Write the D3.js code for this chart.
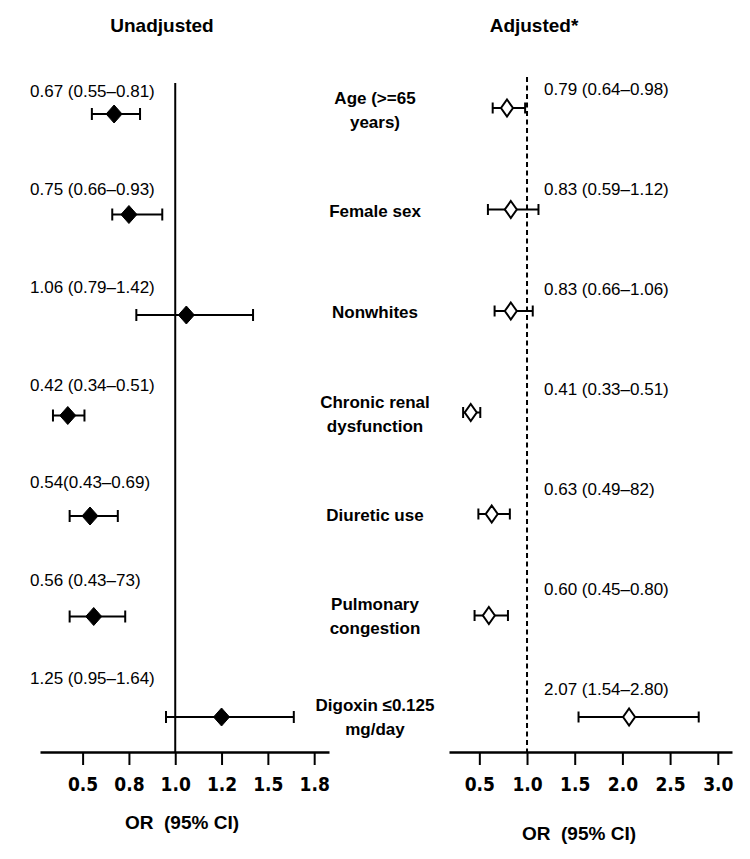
<!DOCTYPE html>
<html>
<head>
<meta charset="utf-8">
<script src="https://cdn.jsdelivr.net/npm/d3@7"></script>
<style>
  body { margin: 0; background: #fff; }
  svg text { font-family: "Liberation Sans", Arial, sans-serif; fill: #000; }
  .tick text { font-family: "Liberation Sans Narrow", "DejaVu Sans Condensed", "Liberation Sans", sans-serif; font-weight: bold; font-size: 19px; }
</style>
</head>
<body>
<div id="chart"></div>
<script>
// Rows (center labels, split into lines)
const rowLabels = [
    ["Age (>=65", "years)"],
    ["Female sex"],
    ["Nonwhites"],
    ["Chronic renal", "dysfunction"],
    ["Diuretic use"],
    ["Pulmonary", "congestion"],
    ["Digoxin \u22640.125", "mg/day"]
];

// Unadjusted OR and 95% CI
const unadjOR = [0.67, 0.75, 1.06, 0.42, 0.54, 0.56, 1.25];
const unadjLo = [0.55, 0.66, 0.79, 0.34, 0.43, 0.43, 0.95];
const unadjHi = [0.81, 0.93, 1.42, 0.51, 0.69, 0.73, 1.64];
const unadjText = ["0.67 (0.55\u20130.81)", "0.75 (0.66\u20130.93)", "1.06 (0.79\u20131.42)",
    "0.42 (0.34\u20130.51)", "0.54(0.43\u20130.69)", "0.56 (0.43\u201373)", "1.25 (0.95\u20131.64)"];

// Adjusted OR and 95% CI
const adjOR = [0.79, 0.83, 0.83, 0.41, 0.63, 0.60, 2.07];
const adjLo = [0.64, 0.59, 0.66, 0.33, 0.49, 0.45, 1.54];
const adjHi = [0.98, 1.12, 1.06, 0.51, 0.82, 0.80, 2.80];
const adjText = ["0.79 (0.64\u20130.98)", "0.83 (0.59\u20131.12)", "0.83 (0.66\u20131.06)",
    "0.41 (0.33\u20130.51)", "0.63 (0.49\u201382)", "0.60 (0.45\u20130.80)", "2.07 (1.54\u20132.80)"];

// Axis ticks
const leftTicks = [0.5, 0.75, 1.0, 1.25, 1.5, 1.75];
const leftTickLabels = ["0.5", "0.8", "1.0", "1.2", "1.5", "1.8"];
const rightTicks = [0.5, 1.0, 1.5, 2.0, 2.5, 3.0];

const W = 750, H = 859;
const axisY = 752;

const svg = d3.select("#chart")
    .append("svg")
    .attr("width", W)
    .attr("height", H);

const rows = d3.range(rowLabels.length);

// Scales
const xL = d3.scaleLinear().domain([0.27, 1.83]).range([40, 329]);
const xR = d3.scaleLinear().domain([0.182, 3.149]).range([449, 732]);
const yL = d3.scalePoint().domain(rows).range([114, 717]);
const yR = d3.scalePoint().domain(rows).range([108, 717]);
const yLText = d3.scalePoint().domain(rows).range([97, 684]);
const yRText = d3.scalePoint().domain(rows).range([95, 695]);

// Titles
svg.append("text")
    .attr("x", 162).attr("y", 32)
    .attr("text-anchor", "middle")
    .style("font-weight", "bold").style("font-size", "19px")
    .text("Unadjusted");

svg.append("text")
    .attr("x", 534).attr("y", 32)
    .attr("text-anchor", "middle")
    .style("font-weight", "bold").style("font-size", "19px")
    .text("Adjusted*");

// Reference lines at OR = 1
svg.append("line")
    .attr("x1", xL(1)).attr("x2", xL(1))
    .attr("y1", 83).attr("y2", axisY)
    .attr("stroke", "#000").attr("stroke-width", 2);

svg.append("line")
    .attr("x1", xR(1)).attr("x2", xR(1))
    .attr("y1", 77).attr("y2", axisY)
    .attr("stroke", "#000").attr("stroke-width", 2)
    .attr("stroke-dasharray", "5,3.5");

// Axes
function styleAxis(g) {
    g.select(".domain").attr("stroke-width", 2.5);
    g.selectAll(".tick line").attr("stroke-width", 2);
}

svg.append("g")
    .attr("transform", `translate(0,${axisY})`)
    .call(d3.axisBottom(xL)
        .tickValues(leftTicks)
        .tickFormat((d, i) => leftTickLabels[i])
        .tickSize(13).tickSizeOuter(0).tickPadding(13))
    .call(styleAxis);

svg.append("g")
    .attr("transform", `translate(0,${axisY})`)
    .call(d3.axisBottom(xR)
        .tickValues(rightTicks)
        .tickFormat(d3.format(".1f"))
        .tickSize(13).tickSizeOuter(0).tickPadding(13))
    .call(styleAxis);

// Axis titles
svg.append("text")
    .attr("x", 182).attr("y", 829)
    .attr("text-anchor", "middle")
    .style("font-weight", "bold").style("font-size", "19px")
    .style("white-space", "pre")
    .text("OR  (95% CI)");

svg.append("text")
    .attr("x", 579).attr("y", 840)
    .attr("text-anchor", "middle")
    .style("font-weight", "bold").style("font-size", "19px")
    .style("white-space", "pre")
    .text("OR  (95% CI)");

// Forest panel drawing
function drawPanel(x, y, yText, or, lo, hi, labels, textX, filled, dw, dh, cap) {
    const g = svg.append("g");

    const r = g.selectAll(".row")
        .data(rows)
        .enter()
        .append("g")
        .attr("class", "row");

    // CI whisker
    r.append("line")
        .attr("x1", i => x(lo[i])).attr("x2", i => x(hi[i]))
        .attr("y1", i => y(i)).attr("y2", i => y(i))
        .attr("stroke", "#000").attr("stroke-width", 2);

    // caps
    r.append("line")
        .attr("x1", i => x(lo[i])).attr("x2", i => x(lo[i]))
        .attr("y1", i => y(i) - cap).attr("y2", i => y(i) + cap)
        .attr("stroke", "#000").attr("stroke-width", 2);
    r.append("line")
        .attr("x1", i => x(hi[i])).attr("x2", i => x(hi[i]))
        .attr("y1", i => y(i) - cap).attr("y2", i => y(i) + cap)
        .attr("stroke", "#000").attr("stroke-width", 2);

    // diamond
    r.append("path")
        .attr("d", i => {
            const cx = x(or[i]), cy = y(i);
            return `M${cx},${cy - dh}L${cx + dw},${cy}L${cx},${cy + dh}L${cx - dw},${cy}Z`;
        })
        .attr("fill", filled ? "#000" : "#fff")
        .attr("stroke", "#000")
        .attr("stroke-width", filled ? 1 : 2);

    // value text
    r.append("text")
        .attr("x", textX)
        .attr("y", i => yText(i))
        .style("font-size", "17px")
        .text(i => labels[i]);
}

drawPanel(xL, yL, yLText, unadjOR, unadjLo, unadjHi, unadjText, 30, true, 8, 9, 6);
drawPanel(xR, yR, yRText, adjOR, adjLo, adjHi, adjText, 544, false, 6, 8.5, 5.5);

// Center row labels
const yMid = d3.scalePoint().domain(rows).range([110, 717]);
const lab = svg.selectAll(".rowlab")
    .data(rows)
    .enter()
    .append("text")
    .attr("class", "rowlab")
    .attr("text-anchor", "middle")
    .style("font-weight", "bold")
    .style("font-size", "17px");

lab.selectAll("tspan")
    .data(i => rowLabels[i].map((t, k) => ({ t, k, n: rowLabels[i].length, i })))
    .enter()
    .append("tspan")
    .attr("x", 375)
    .attr("y", d => yMid(d.i) + 6 + (d.k - (d.n - 1) / 2) * 24)
    .text(d => d.t);
</script>
</body>
</html>
